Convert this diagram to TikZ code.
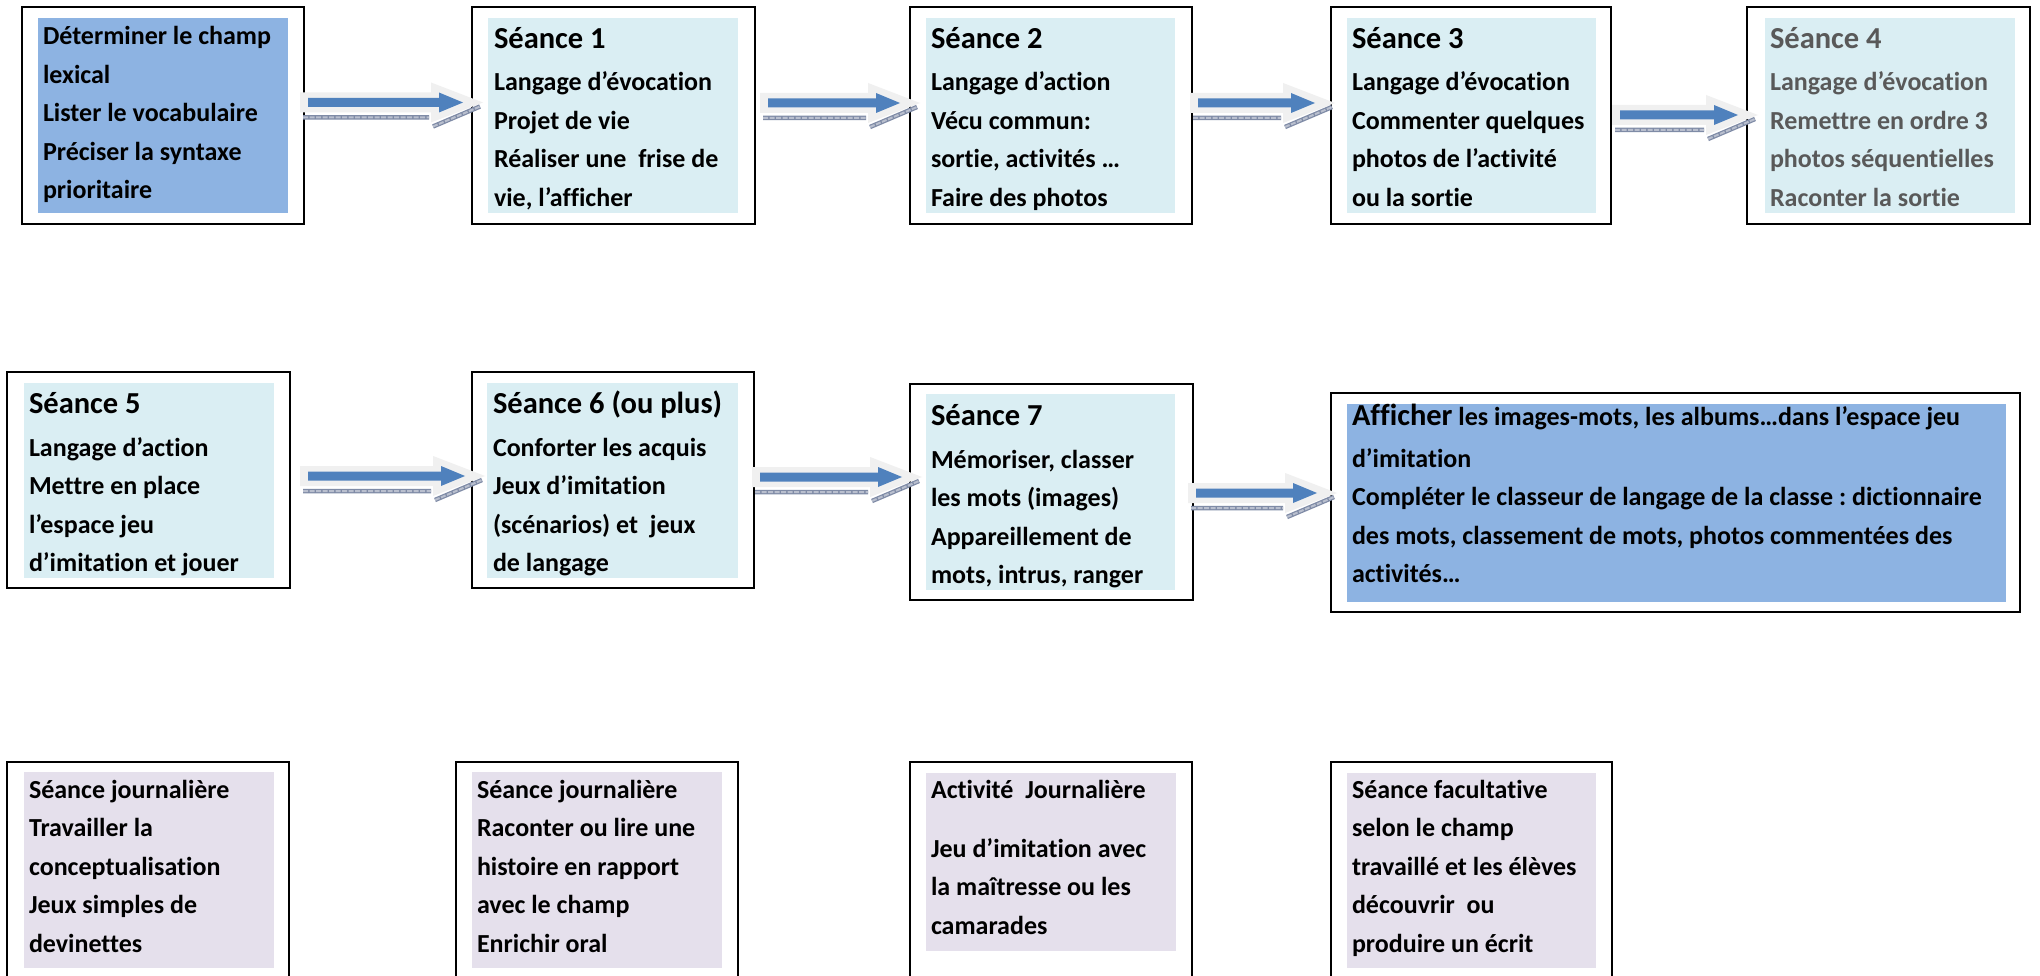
\documentclass[tikz,border=0pt]{standalone}
\usepackage{fontspec}
\setmainfont{Carlito}[Ligatures=NoCommon]
\usetikzlibrary{calc}
\frenchspacing
\definecolor{lblue}{HTML}{8DB3E2}
\definecolor{lcyan}{HTML}{DAEEF3}
\definecolor{lpurp}{HTML}{E5E0EC}
\definecolor{arrblue}{HTML}{4F81BD}
\definecolor{arrgray}{HTML}{F0F0F0}
\definecolor{hatchc}{HTML}{7F8BA6}
\definecolor{txtgray}{HTML}{595959}
\newcommand\bodyfont{\fontsize{26}{38.5}\selectfont\bfseries}
\newcommand\headfont{\fontsize{30.5}{38.5}\selectfont\bfseries}
\tikzset{
  x=1pt, y=1pt,
  outerbox/.style={draw=black, line width=2pt, inner sep=0pt, outer sep=0pt, anchor=north west},
  bodytext/.style={anchor=base west, inner sep=0pt, outer sep=0pt, font=\bodyfont, align=left},
  hatchouter/.style={line width=4.5pt, hatchc},
  hatchinner/.style={line width=2pt, white!45!hatchc, dash pattern=on 5pt off 1.5pt},
}
% block arrow: from node, to node, y (px down), start offset, tip offset
\newcommand\barrow[5]{%
  \fill[arrgray] let \p1=(#1.east), \p2=(#2.west), \n1={\x1+#4}, \n2={\x2+#5} in
    (\n1,-#3+10) -- (\n2-52,-#3+10) -- (\n2-52,-#3+20) -- (\n2,-#3) --
    (\n2-52,-#3-20) -- (\n2-52,-#3-10) -- (\n1,-#3-10) -- cycle;
  \draw[hatchouter] let \p1=(#1.east), \p2=(#2.west), \n1={\x1+#4}, \n2={\x2+#5} in
    (\n1+3,-#3-15) -- (\n2-54,-#3-15)
    (\n2-50,-#3-24) -- (\n2-3,-#3-4);
  \draw[hatchinner] let \p1=(#1.east), \p2=(#2.west), \n1={\x1+#4}, \n2={\x2+#5} in
    (\n1+3,-#3-15) -- (\n2-54,-#3-15)
    (\n2-50,-#3-24) -- (\n2-3,-#3-4);
  \fill[arrblue] let \p1=(#1.east), \p2=(#2.west), \n1={\x1+#4}, \n2={\x2+#5} in
    (\n1+8,-#3+4.5) -- (\n2-44,-#3+4.5) -- (\n2-44,-#3+10) -- (\n2-20,-#3) --
    (\n2-44,-#3-10) -- (\n2-44,-#3-4.5) -- (\n1+8,-#3-4.5) -- cycle;
}
\begin{document}
\begin{tikzpicture}
\useasboundingbox (0,0) rectangle (2040,-976);
\fill[white] (0,0) rectangle (2040,-976);

% ---------- Row 1 ----------
\node[outerbox, minimum width=282pt, minimum height=217pt] (b0) at (22,-7) {};
\node[outerbox, minimum width=283pt, minimum height=217pt] (b1) at (472,-7) {};
\node[outerbox, minimum width=282pt, minimum height=217pt] (b2) at (910,-7) {};
\node[outerbox, minimum width=280pt, minimum height=217pt] (b3) at (1331,-7) {};
\node[outerbox, minimum width=283pt, minimum height=217pt] (b4) at (1747,-7) {};
% ---------- Row 2 ----------
\node[outerbox, minimum width=283pt, minimum height=216pt] (b5) at (7,-372) {};
\node[outerbox, minimum width=282pt, minimum height=216pt] (b6) at (472,-372) {};
\node[outerbox, minimum width=283pt, minimum height=216pt] (b7) at (910,-384) {};
\node[outerbox, minimum width=689pt, minimum height=219pt] (b8) at (1331,-393) {};
% ---------- Row 3 ----------
\node[outerbox, minimum width=282pt, minimum height=240pt] (b9) at (7,-762) {};
\node[outerbox, minimum width=282pt, minimum height=240pt] (b10) at (456,-762) {};
\node[outerbox, minimum width=282pt, minimum height=240pt] (b11) at (910,-762) {};
\node[outerbox, minimum width=281pt, minimum height=240pt] (b12) at (1331,-762) {};

% arrows
\barrow{b0}{b1}{102.5}{-4}{11}
\barrow{b1}{b2}{103}{5}{10}
\barrow{b2}{b3}{103}{-2}{4}
\barrow{b3}{b4}{115}{1}{11}
\barrow{b5}{b6}{476}{10}{13}
\barrow{b6}{b7}{477}{-2}{12}
\barrow{b7}{b8}{493}{-5}{6}

% fills
\fill[lblue] (38,-18) rectangle (288,-213);
\fill[lcyan] (488,-18) rectangle (738,-213);
\fill[lcyan] (926,-18) rectangle (1175,-213);
\fill[lcyan] (1347,-18) rectangle (1596,-213);
\fill[lcyan] (1765,-18) rectangle (2015,-213);
\fill[lcyan] (24,-383) rectangle (274,-578);
\fill[lcyan] (487,-383) rectangle (738,-578);
\fill[lcyan] (926,-394) rectangle (1175,-590);
\fill[lblue] (1347,-404) rectangle (2006,-602);
\fill[lpurp] (24,-772) rectangle (274,-968);
\fill[lpurp] (472,-772) rectangle (722,-968);
\fill[lpurp] (926,-773) rectangle (1176,-951);
\fill[lpurp] (1347,-773) rectangle (1596,-968);

% texts
\node[bodytext] (t0) at (43,-45) {\begin{tabular}[t]{@{}l@{}}Déterminer le champ\\lexical\\Lister le vocabulaire\\Préciser la syntaxe\\prioritaire\end{tabular}};
\node[bodytext] (t1) at (494,-49) {\begin{tabular}[t]{@{}l@{}}{\headfont Séance 1}\\[3.5pt]Langage d’évocation\\Projet de vie\\Réaliser une\ \ frise de\\vie, l’afficher\end{tabular}};
\node[bodytext] (t2) at (931,-49) {\begin{tabular}[t]{@{}l@{}}{\headfont Séance 2}\\[3.5pt]Langage d’action\\Vécu commun:\\sortie, activités …\\Faire des photos\end{tabular}};
\node[bodytext] (t3) at (1352,-49) {\begin{tabular}[t]{@{}l@{}}{\headfont Séance 3}\\[3.5pt]Langage d’évocation\\Commenter quelques\\photos de l’activité\\ou la sortie\end{tabular}};
\node[bodytext, text=txtgray] (t4) at (1770,-49) {\begin{tabular}[t]{@{}l@{}}{\headfont Séance 4}\\[3.5pt]Langage d’évocation\\Remettre en ordre 3\\photos séquentielles\\Raconter la sortie\end{tabular}};

\node[bodytext] (t5) at (29,-413) {\begin{tabular}[t]{@{}l@{}}{\headfont Séance 5}\\[4.5pt]Langage d’action\\Mettre en place\\l’espace jeu\\d’imitation et jouer\end{tabular}};
\node[bodytext] (t6) at (493,-413) {\begin{tabular}[t]{@{}l@{}}{\headfont Séance 6 (ou plus)}\\[4.5pt]Conforter les acquis\\Jeux d’imitation\\(scénarios) et\ \ jeux\\de langage\end{tabular}};
\node[bodytext] (t7) at (931,-425) {\begin{tabular}[t]{@{}l@{}}{\headfont Séance 7}\\[4.5pt]Mémoriser, classer\\les mots (images)\\Appareillement de\\mots, intrus, ranger\end{tabular}};
\node[bodytext] (t8) at (1352,-425) {\begin{tabular}[t]{@{}l@{}}{\headfont Afficher} les images-mots, les albums…dans l’espace jeu\\[3.5pt]d’imitation\\Compléter le classeur de langage de la classe : dictionnaire\\des mots, classement de mots, photos commentées des\\activités…\end{tabular}};

\node[bodytext] (t9) at (29,-798) {\begin{tabular}[t]{@{}l@{}}Séance journalière\\Travailler la\\conceptualisation\\Jeux simples de\\devinettes\end{tabular}};
\node[bodytext] (t10) at (477,-798) {\begin{tabular}[t]{@{}l@{}}Séance journalière\\Raconter ou lire une\\histoire en rapport\\avec le champ\\Enrichir oral\end{tabular}};
\node[bodytext] (t11) at (931,-798) {\begin{tabular}[t]{@{}l@{}}Activité\ \ Journalière\\[20.5pt]Jeu d’imitation avec\\la maîtresse ou les\\camarades\end{tabular}};
\node[bodytext] (t12) at (1352,-798) {\begin{tabular}[t]{@{}l@{}}Séance facultative\\selon le champ\\travaillé et les élèves\\découvrir\ \ ou\\produire un écrit\end{tabular}};
\end{tikzpicture}
\end{document}
